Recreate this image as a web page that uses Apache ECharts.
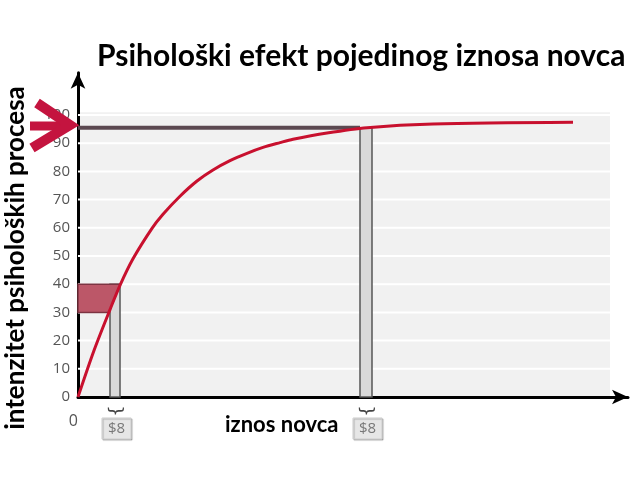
<!DOCTYPE html>
<html>
<head>
<meta charset="utf-8">
<script src="https://cdn.jsdelivr.net/npm/echarts@6/dist/echarts.min.js"></script>
<style>html,body{margin:0;padding:0;background:#fff;}#c{width:640px;height:480px;}</style>
</head>
<body>
<div id="c"></div>
<script>
// ---- data ----
const titleText = 'Psihološki efekt pojedinog iznosa novca';
const yAxisTitle = 'intenzitet psiholoških procesa';
const xAxisTitle = 'iznos novca';
const curveX = [0, 16, 32, 42, 55, 74, 85, 102, 119, 135, 152, 169, 185, 202, 215, 249, 289, 355, 495];
const curveY = [0, 16.5, 31, 39.6, 49, 59.8, 64.8, 71.2, 76.6, 80.5, 83.8, 86.4, 88.5, 90.2, 91.4, 93.6, 95.5, 96.8, 97.4];
const yTicks = [0, 10, 20, 30, 40, 50, 60, 70, 80, 90, 100];
const plotAreaMaxX = 532;
const plotAreaMaxY = 101;
const barLeft = [32, 282];
const barRight = [42, 294];
const barTop = [40, 95.5];
const redBandX = [0, 31, 42, 0];
const redBandY = [30, 30, 40, 40];
const refLevel = 95.5;
const refLineEndX = 282;
const priceLabels = ['$8', '$8'];
const priceX = [37, 288];

const chart = echarts.init(document.getElementById('c'));
const curveData = curveX.map((x, i) => [x, curveY[i]]);
const barData = barLeft.map((x, i) => [x, barRight[i], barTop[i]]);
const gridData = yTicks.filter(v => v > 0).map(v => [0, v]);

chart.setOption({
  animation: false,
  backgroundColor: '#fff',
  grid: { left: 78, right: 12, top: 72.7, bottom: 83 },
  xAxis: {
    type: 'value', min: 0, max: 550, interval: 550,
    axisLine: { show: true, onZero: false, lineStyle: { color: '#000', width: 3 }, symbol: ['none', 'arrow'], symbolSize: [11, 16] },
    axisTick: { show: false },
    splitLine: { show: false },
    axisLabel: { margin: 16, color: '#555', fontSize: 16, fontFamily: 'Open Sans',
      formatter: v => v === 0 ? '0' : '' , align: 'right'}
  },
  yAxis: {
    type: 'value', min: 0, max: 115, interval: 10,
    axisLine: { show: true, lineStyle: { color: '#000', width: 3 }, symbol: ['none', 'arrow'], symbolSize: [11, 16] },
    axisTick: { show: false },
    splitLine: { show: false },
    axisLabel: { margin: 8, color: '#555', fontSize: 15, fontFamily: 'Open Sans',
      formatter: v => yTicks.indexOf(v) >= 0 ? String(v) : '' }
  },
  series: [
    { // plot background
      type: 'custom', z: 0, silent: true,
      data: [[plotAreaMaxX, plotAreaMaxY]],
      renderItem: (params, api) => {
        const p0 = api.coord([0, 0]);
        const p1 = api.coord([api.value(0), api.value(1)]);
        return { type: 'rect', shape: { x: p0[0], y: p1[1], width: p1[0] - p0[0], height: p0[1] - p1[1] }, style: { fill: '#f1f1f1' } };
      }
    },
    { // grid lines
      type: 'custom', z: 1, silent: true,
      data: gridData,
      renderItem: (params, api) => {
        const a = api.coord([0, api.value(1)]);
        const b = api.coord([plotAreaMaxX, api.value(1)]);
        return { type: 'line', shape: { x1: a[0], y1: a[1], x2: b[0], y2: b[1] }, style: { stroke: '#ffffff', lineWidth: 2 } };
      }
    },
    { // gray bars
      type: 'custom', z: 2, silent: true,
      data: barData,
      renderItem: (params, api) => {
        const a = api.coord([api.value(0), api.value(2)]);
        const b = api.coord([api.value(1), 0]);
        return { type: 'rect', shape: { x: a[0], y: a[1], width: b[0] - a[0], height: b[1] - a[1] }, style: { fill: '#d9d9d9', stroke: '#555', lineWidth: 1.5 } };
      }
    },
    { // red band
      type: 'custom', z: 3, silent: true,
      data: [[0]],
      renderItem: (params, api) => {
        const pts = redBandX.map((x, i) => api.coord([x, redBandY[i]]));
        return { type: 'polygon', shape: { points: pts }, style: { fill: '#bc5768', stroke: '#7d3442', lineWidth: 1.5 } };
      }
    },
    { // reference level line
      type: 'line', z: 4, silent: true, symbol: 'none',
      data: [[0, refLevel], [refLineEndX, refLevel]],
      lineStyle: { color: '#5b4850', width: 4 }
    },
    { // curve
      type: 'line', z: 5, silent: true, symbol: 'none', smooth: 0.3,
      data: curveData,
      lineStyle: { color: '#c8102e', width: 3 }
    },
    { // price labels with braces
      type: 'custom', z: 6, silent: true,
      data: priceX.map((x, i) => [x, 0, i]),
      renderItem: (params, api) => {
        const p = api.coord([api.value(0), 0]);
        const lab = priceLabels[api.value(2)];
        return { type: 'group', children: [
          { type: 'text', x: p[0], y: p[1] + 14, rotation: -Math.PI / 2,
            style: { text: '}', fill: '#444', fontSize: 18, fontFamily: 'DejaVu Sans', align: 'center', verticalAlign: 'middle' } },
          { type: 'rect', shape: { x: p[0] - 13, y: p[1] + 21, width: 29, height: 21 },
            style: { fill: '#e6e6e6', stroke: '#cfcfcf', lineWidth: 1, shadowColor: 'rgba(0,0,0,0.25)', shadowOffsetX: 1, shadowOffsetY: 1, shadowBlur: 1 } },
          { type: 'text', x: p[0] + 1.5, y: p[1] + 32,
            style: { text: lab, fill: '#777', fontSize: 15, fontFamily: 'Open Sans', align: 'center', verticalAlign: 'middle' } }
        ]};
      }
    }
  ],
  graphic: [
    { type: 'text', left: 97, top: 41,
      style: { text: titleText, fill: '#000', fontSize: 30, fontWeight: 'bold', fontFamily: 'Lato' } },
    { type: 'text', x: 16, y: 258, rotation: Math.PI / 2,
      style: { text: yAxisTitle, fill: '#000', fontSize: 26, fontWeight: 'bold', fontFamily: 'Lato', align: 'center', verticalAlign: 'middle' } },
    { type: 'text', left: 225, top: 414,
      style: { text: xAxisTitle, fill: '#000', fontSize: 22, fontWeight: 'bold', fontFamily: 'Lato' } },
    { type: 'polyline', z: 100, shape: { points: [[30, 126], [68, 126]] },
      style: { stroke: '#c4143f', lineWidth: 9, fill: null } },
    { type: 'polyline', z: 100, shape: { points: [[37, 103], [70, 125], [32, 148]] },
      style: { stroke: '#c4143f', lineWidth: 10, fill: null, lineJoin: 'miter' } }
  ]
});
</script>
</body>
</html>
